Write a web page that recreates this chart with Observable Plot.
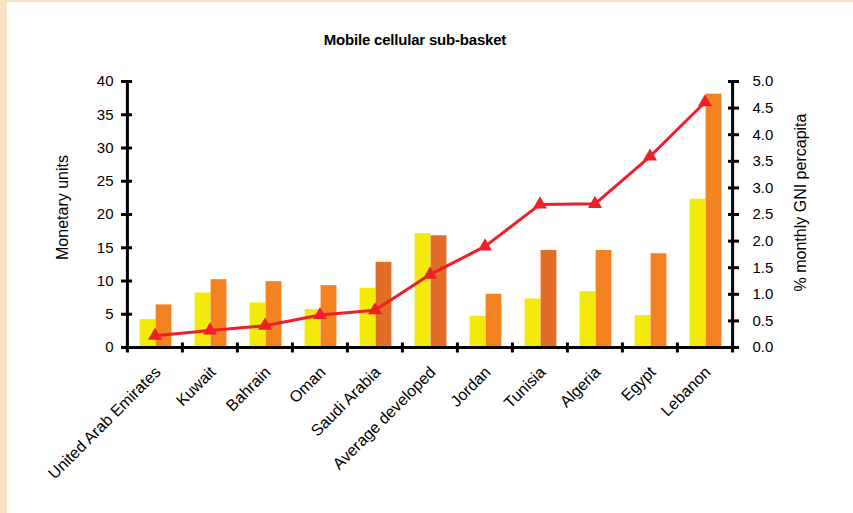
<!DOCTYPE html>
<html><head><meta charset="utf-8">
<script src="https://cdn.jsdelivr.net/npm/d3@7"></script>
<script src="https://cdn.jsdelivr.net/npm/@observablehq/plot@0.6"></script>
<style>
body{margin:0;background:#fff;}
#wrap{position:relative;width:853px;height:513px;background:#fff;overflow:hidden;font-family:"Liberation Sans",Arial,sans-serif;}
#bl{position:absolute;left:0;top:0;width:7px;height:513px;background:#f8e1c4;}
#bt{position:absolute;left:0;top:0;width:853px;height:2px;background:#f8e1c4;}
#title{position:absolute;top:31px;left:215px;width:400px;text-align:center;font-weight:bold;font-size:15px;color:#000;letter-spacing:-0.2px;}
#chart{position:absolute;left:0;top:0;}
</style></head><body>
<div id="wrap"><div id="bl"></div><div id="bt"></div><div id="chart"></div><div id="title">Mobile cellular sub-basket</div></div>
<script>
const categories = ["United Arab Emirates","Kuwait","Bahrain","Oman","Saudi Arabia","Average developed","Jordan","Tunisia","Algeria","Egypt","Lebanon"];
const monetaryYellow = [4.2, 8.2, 6.7, 5.7, 8.9, 17.1, 4.7, 7.3, 8.4, 4.8, 22.3];
const monetaryOrange = [6.4, 10.2, 9.9, 9.3, 12.8, 16.8, 8.0, 14.6, 14.6, 14.1, 38.1];
const gniPercent = [0.22, 0.32, 0.41, 0.61, 0.70, 1.37, 1.90, 2.69, 2.70, 3.59, 4.61];
const leftTicks = [0, 5, 10, 15, 20, 25, 30, 35, 40];
const rightTicks = [0.0, 0.5, 1.0, 1.5, 2.0, 2.5, 3.0, 3.5, 4.0, 4.5, 5.0];

// styling (not data)
const darkOrangeCats = new Set(["Saudi Arabia","Average developed","Tunisia"]);
const W = 853, H = 513, mL = 126, mR = 120, mT = 81, mB = 166;
const bw = (W - mL - mR) / categories.length;
const barW = 16;
const ratio = 40 / 5; // left max / right max

const table = categories.map((c, i) => ({cat: c, a: monetaryYellow[i], b: monetaryOrange[i], g: gniPercent[i]}));

const hTick = {draw(ctx, size){const r = Math.sqrt(size/Math.PI); ctx.moveTo(-r,0); ctx.lineTo(r,0);}};
const vTick = {draw(ctx, size){const r = Math.sqrt(size/Math.PI); ctx.moveTo(0,-r); ctx.lineTo(0,r);}};

const chart = Plot.plot({
  width: W, height: H,
  marginLeft: mL, marginRight: mR, marginTop: mT, marginBottom: mB,
  style: {fontFamily: "'Liberation Sans', Arial, sans-serif", fontSize: "15px", background: "transparent", color: "#000", overflow: "visible"},
  x: {domain: categories, padding: 0, label: null},
  y: {domain: [0, 40], label: null},
  marks: [
    Plot.barY(table, {x: "cat", y: "a", fill: "#f3ea0b", insetLeft: bw/2 - barW + 1, insetRight: bw/2 - 1}),
    Plot.barY(table, {x: "cat", y: "b", fill: d => darkOrangeCats.has(d.cat) ? "#e26d26" : "#f48221", insetLeft: bw/2 + 1, insetRight: bw/2 - barW - 1}),
    Plot.line(table, {x: "cat", y: d => d.g * ratio, stroke: "#ed1f27", strokeWidth: 3}),
    Plot.dot(table, {x: "cat", y: d => d.g * ratio, symbol: "triangle2", r: 6.7, fill: "#ed1f27", stroke: "none"}),
    Plot.ruleY([0], {stroke: "#000", strokeWidth: 3}),
    Plot.ruleX([categories[0]], {x: d => d, y1: 0, y2: 40, dx: -bw/2, stroke: "#000", strokeWidth: 3}),
    Plot.ruleX([categories[categories.length-1]], {x: d => d, y1: 0, y2: 40, dx: bw/2, stroke: "#000", strokeWidth: 3}),
    Plot.dot(leftTicks, {y: d => d, frameAnchor: "left", symbol: hTick, r: 5.5, fill: "none", stroke: "#000", strokeWidth: 3}),
    Plot.dot(rightTicks, {y: d => d * ratio, frameAnchor: "right", symbol: hTick, r: 5.5, fill: "none", stroke: "#000", strokeWidth: 3}),
    Plot.dot(categories, {x: d => d, frameAnchor: "bottom", dx: -bw/2, symbol: vTick, r: 5, fill: "none", stroke: "#000", strokeWidth: 3}),
    Plot.dot([categories[categories.length-1]], {x: d => d, frameAnchor: "bottom", dx: bw/2, symbol: vTick, r: 5, fill: "none", stroke: "#000", strokeWidth: 3}),
    Plot.axisY(leftTicks, {anchor: "left", tickSize: 0, tickPadding: 13, label: null, fontSize: 15}),
    Plot.axisY(rightTicks.map(v => v * ratio), {anchor: "right", tickSize: 0, tickPadding: 19, label: null, fontSize: 15, tickFormat: d => (d / ratio).toFixed(1)}),
    Plot.axisX({anchor: "bottom", tickSize: 0, tickPadding: 22, tickRotate: -45, label: null, fontSize: 16, dx: 3}),
    Plot.text(["Monetary units"], {frameAnchor: "left", dx: -64, dy: -7, rotate: -90, textAnchor: "middle", text: d => d, fontSize: 16}),
    Plot.text(["% monthly GNI percapita"], {frameAnchor: "right", dx: 67, dy: -12, rotate: -90, textAnchor: "middle", text: d => d, fontSize: 16})
  ]
});
document.getElementById("chart").appendChild(chart);
</script>
</body></html>
